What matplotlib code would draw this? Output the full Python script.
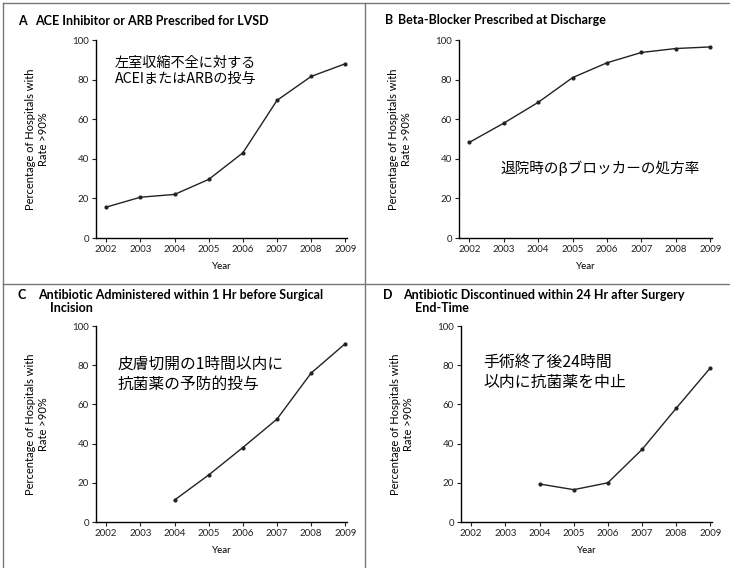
import matplotlib.pyplot as plt
from matplotlib.lines import Line2D

plt.rcParams['font.family'] = ['Lato', 'DejaVu Sans']

years = [2002, 2003, 2004, 2005, 2006, 2007, 2008, 2009]
years_late = [2004, 2005, 2006, 2007, 2008, 2009]

ace_arb = [15.6, 20.6, 22.0, 29.6, 43.0, 69.5, 81.6, 88.0]
beta_blocker = [48.3, 58.0, 68.5, 81.0, 88.5, 93.7, 95.7, 96.5]
abx_before = [11.2, 24.0, 38.0, 52.5, 76.0, 91.0]
abx_stop = [19.4, 16.5, 20.0, 37.0, 58.0, 78.6]

letters = ["A", "B", "C", "D"]
titles = [
    ["ACE Inhibitor or ARB Prescribed for LVSD"],
    ["Beta-Blocker Prescribed at Discharge"],
    ["Antibiotic Administered within 1 Hr before Surgical", "Incision"],
    ["Antibiotic Discontinued within 24 Hr after Surgery", "End-Time"],
]
notes = [
    "左室収縮不全に対する\nACEIまたはARBの投与",
    "退院時のβブロッカーの処方率",
    "皮膚切開の1時間以内に\n抗菌薬の予防的投与",
    "手術終了後24時間\n以内に抗菌薬を中止",
]
ylabel = "Percentage of Hospitals with\nRate >90%"

W, H = 730, 568
fig = plt.figure(figsize=(W / 100, H / 100), dpi=100)

# axes boxes in pixels: left, top, right, bottom
boxes = [(96, 40, 347, 238), (459, 40, 712, 238),
         (96, 326, 347, 522), (461, 326, 712, 522)]
series = [(years, ace_arb), (years, beta_blocker),
          (years_late, abx_before), (years_late, abx_stop)]
note_pos = [(115, 56), (500, 160), (118, 356), (483, 354)]
note_size = [10.2, 10.5, 11.3, 11.4]
# letter x, title x, second-line x, first line centre y
title_pos = [(18, 35, 0, 21), (385, 398, 0, 20),
             (17, 38, 50, 295), (383, 403, 415, 295)]

for i in range(4):
    l, t, r, b = boxes[i]
    ax = fig.add_axes([l / W, 1 - b / H, (r - l) / W, (b - t) / H])
    x, y = series[i]
    ax.plot(x, y, color="#222222", lw=1.0, marker="o", ms=2)
    ax.set_xlim(2001.7, 2009.05)
    ax.set_ylim(0, 100)
    ax.set_xticks(years)
    ax.set_yticks([0, 20, 40, 60, 80, 100])
    ax.tick_params(labelsize=7, length=3, width=0.8, pad=2, colors="#222222")
    for s in ["top", "right"]:
        ax.spines[s].set_visible(False)
    for s in ["left", "bottom"]:
        ax.spines[s].set_linewidth(1.0)
    ax.set_xlabel("Year", fontsize=7, labelpad=6)
    fig.text((l - 59) / W, 1 - (t + b) / 2 / H, ylabel, fontsize=8,
             rotation=90, ha="center", va="center", linespacing=1.3,
             multialignment="center")

    lx, tx, tx2, ty = title_pos[i]
    fig.text(lx / W, 1 - ty / H, letters[i], fontsize=9, fontweight="bold",
             va="center")
    fig.text(tx / W, 1 - ty / H, titles[i][0], fontsize=9, fontweight="bold",
             va="center")
    if len(titles[i]) > 1:
        fig.text(tx2 / W, 1 - (ty + 13) / H, titles[i][1], fontsize=9,
                 fontweight="bold", va="center")

    nx, ny = note_pos[i]
    fig.text(nx / W, 1 - ny / H, notes[i], fontsize=note_size[i], va="top",
             family=["Noto Sans CJK JP", "DejaVu Sans"], linespacing=1.2)

# panel frame lines
c = "#777777"
fig.add_artist(Line2D([3 / W, 1], [1 - 3 / H] * 2, color=c, lw=1))
fig.add_artist(Line2D([3 / W, 3 / W], [0, 1 - 3 / H], color=c, lw=1))
fig.add_artist(Line2D([365 / W, 365 / W], [0, 1 - 3 / H], color=c, lw=1))
fig.add_artist(Line2D([3 / W, 1], [1 - 284 / H] * 2, color=c, lw=1))

fig.savefig("out.png", dpi=100)
